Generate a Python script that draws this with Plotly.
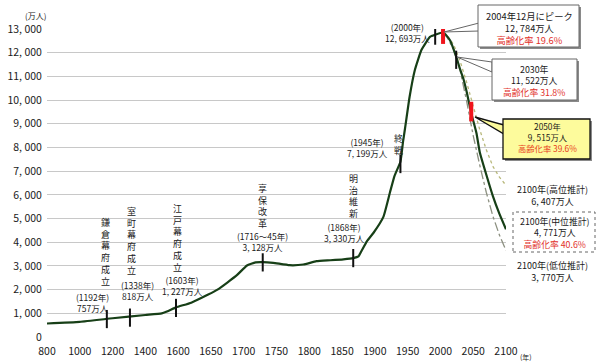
import plotly.graph_objects as go

# ---------------- data ----------------
tick_labels = ["800", "1000", "1200", "1400", "1600", "1650", "1700", "1750",
               "1800", "1850", "1900", "1950", "2000", "2050", "2100"]
y_ticks = [0, 1000, 2000, 3000, 4000, 5000, 6000, 7000, 8000, 9000, 10000, 11000, 12000, 13000]
y_tick_text = ["0", "1, 000", "2, 000", "3, 000", "4, 000", "5, 000", "6, 000", "7, 000",
               "8, 000", "9, 000", "10, 000", "11, 000", "12, 000", "13, 000"]

# population (万人)
hist_years = [800, 1000, 1200, 1400, 1500, 1540, 1587, 1620, 1645, 1660, 1675, 1690, 1705,
              1718, 1729, 1745, 1770, 1791, 1811, 1832, 1852, 1867, 1875, 1880, 1888, 1898,
              1913, 1923, 1930, 1939, 1943, 1946, 1953, 1961, 1971, 1984, 1992, 2004]
hist_pop = [570, 640, 790, 930, 1000, 1100, 1250, 1450, 1780, 2000, 2300, 2620, 3020,
            3150, 3160, 3130, 3030, 3060, 3200, 3240, 3280, 3330, 3400, 3650, 4050, 4400,
            5070, 6100, 6800, 7400, 8250, 8800, 10140, 11270, 12110, 12670, 12760, 12850]

mid_years = [2004, 2010, 2015, 2020, 2025, 2030, 2035, 2040, 2047, 2055, 2060, 2070, 2080, 2090, 2100]
mid_pop = [12850, 12700, 12500, 12150, 11750, 11300, 10900, 10350, 9450, 8600, 7800, 6850, 5950, 5200, 4550]

high_years = [2004, 2010, 2020, 2030, 2040, 2050, 2060, 2070, 2080, 2090, 2100]
high_pop = [12850, 12720, 12350, 11650, 10750, 9750, 8750, 7900, 7200, 6750, 6400]

low_years = [2004, 2010, 2020, 2030, 2040, 2046, 2050, 2060, 2070, 2080, 2090, 2100]
low_pop = [12850, 12650, 12150, 11250, 9950, 9000, 8500, 7250, 6100, 5100, 4300, 3650]

event_years = [1165, 1306, 1587, 1729, 1867, 1939, 1992, 2024]
event_pop = [757, 818, 1227, 3150, 3330, 7300, 12720, 11700]
red_years = [2004, 2047]
red_pop = [12784, 9515]


def pos(year):
    if year <= 1600:
        return (year - 800) / 200
    return 4 + (year - 1600) / 50


def P(v):
    return [pos(y) for y in v]


# ---------------- layout helpers (pixel -> paper) ----------------
L, R, T, B = 47, 506, 29, 337


def X(px):
    return (px - L) / (R - L)


def Y(py):
    return (B - py) / (B - T)


FONT = "Noto Sans CJK JP"
TXT = "#1a1a1a"
RED = "#e2312b"

fig = go.Figure()
fig.add_trace(go.Scatter(x=P(low_years), y=low_pop, mode="lines",
                         line=dict(color="#8c9080", width=1.3, dash="dashdot")))
fig.add_trace(go.Scatter(x=P(high_years), y=high_pop, mode="lines",
                         line=dict(color="#b8b87a", width=1.3, dash="dot")))
fig.add_trace(go.Scatter(x=P(hist_years) + P(mid_years[1:]), y=hist_pop + mid_pop[1:],
                         mode="lines", line=dict(color="#173f17", width=2.2, shape="spline",
                                                 smoothing=0.4)))
fig.add_trace(go.Scatter(x=P(event_years), y=event_pop, mode="markers",
                         marker=dict(symbol="line-ns", size=13,
                                     line=dict(width=2, color="#111111"))))
fig.add_trace(go.Scatter(x=P(red_years), y=red_pop, mode="markers",
                         marker=dict(symbol="line-ns", size=14,
                                     line=dict(width=4, color="#f0141c"))))

ann = []


def text(px, py, s, size=9.5, color=TXT, xa="center", ya="middle"):
    ann.append(dict(x=X(px), y=Y(py), xref="paper", yref="paper", text=s, showarrow=False,
                    xanchor=xa, yanchor=ya, borderpad=0, align="center",
                    font=dict(family=FONT, size=size, color=color)))


def vtext(px, pmid, s, size=9):
    text(px, pmid, "<br>".join(list(s)), size=size)


def red(s, c=RED):
    return "<span style='color:{}'>{}</span>".format(c, s)


text(35, 15, "(万人)", size=8)
text(519, 357, "(年)", size=7, xa="left")

vtext(105, 251.5, "鎌倉幕府成立")
text(92, 302, "(1192年)<br>757万人", size=8.5)

vtext(131.5, 241, "室町幕府成立")
text(137, 290, "(1338年)<br>818万人", size=8.5)

vtext(177, 238, "江戸幕府成立")
text(182, 285, "(1603年)<br>1, 227万人", size=8.5)

vtext(262, 206, "享保改革")
text(262, 242, "(1716～45年)<br>3, 128万人", size=8.5)

vtext(353.5, 196, "明治維新")
text(344, 232, "(1868年)<br>3, 330万人", size=8.5)

vtext(398, 144.5, "終戦")
text(367, 147, "(1945年)<br>7, 199万人", size=8.5)

text(407.5, 32.5, "(2000年)<br>12, 693万人", size=8.5)

# box texts
text(529, 28, "2004年12月にピーク<br>12, 784万人<br>" + red("高齢化率 19.6%"), size=9.3)
text(534, 81, "2030年<br>11, 522万人<br>" + red("高齢化率 31.8%"), size=8.8)
text(547, 137, "2050年<br>9, 515万人<br>" + red("高齢化率 39.6%", "#e8401c"), size=8.3)
text(552, 196, "2100年(高位推計)<br>6, 407万人", size=9)
text(554, 233, "2100年(中位推計)<br>4, 771万人<br>" + red("高齢化率 40.6%"), size=8.8)
text(552, 271.5, "2100年(低位推計)<br>3, 770万人", size=9)

shapes = []


def rect(x0, y0, x1, y1, fill, line, w=1, dash=None, shadow=False):
    if shadow:
        shapes.append(dict(type="rect", xref="paper", yref="paper", x0=X(x0 + 2), x1=X(x1 + 2),
                           y0=Y(y1 + 2), y1=Y(y0 + 2), fillcolor="#8a8a8a",
                           line=dict(width=0), layer="above"))
    ln = dict(color=line, width=w)
    if dash:
        ln["dash"] = dash
    shapes.append(dict(type="rect", xref="paper", yref="paper", x0=X(x0), x1=X(x1),
                       y0=Y(y1), y1=Y(y0), fillcolor=fill, line=ln, layer="above"))


def wedge(tip, b1, b2, fill, line, w=1):
    p = "M {} {} L {} {} L {} {} Z".format(X(tip[0]), Y(tip[1]), X(b1[0]), Y(b1[1]),
                                          X(b2[0]), Y(b2[1]))
    shapes.append(dict(type="path", xref="paper", yref="paper", path=p, fillcolor=fill,
                       line=dict(color=line, width=w), layer="above"))


wedge((444, 32), (479, 23), (479, 31), "white", "#666666")
rect(478, 5, 579, 47, "white", "#666666", shadow=True)
wedge((457, 57), (492, 62), (492, 72), "white", "#666666")
rect(492, 59, 577, 100, "white", "#666666", shadow=True)
wedge((475, 117), (504, 125), (504, 134), "#fdfb9c", "#111111", 1.3)
rect(503, 119, 590, 159, "#fdfb9c", "#111111", w=1.3, shadow=True)
rect(513, 212, 595, 252, "rgba(0,0,0,0)", "#666666", dash="dot")

fig.update_layout(
    width=600, height=364,
    margin=dict(l=L, r=600 - R, t=T, b=364 - B),
    paper_bgcolor="white", plot_bgcolor="white",
    showlegend=False,
    annotations=ann, shapes=shapes,
    xaxis=dict(range=[0, 14], tickmode="array", tickvals=list(range(15)), ticktext=tick_labels,
               showgrid=False, zeroline=False, showline=False, ticks="outside", ticklen=4,
               tickcolor="rgba(0,0,0,0)", automargin=False,
               tickfont=dict(family=FONT, size=10.5, color=TXT)),
    yaxis=dict(range=[0, 13000], tickmode="array", tickvals=y_ticks, ticktext=y_tick_text,
               showgrid=True, gridcolor="#c8c8c8", gridwidth=1, zeroline=False, showline=False,
               ticks="outside", ticklen=2, tickcolor="rgba(0,0,0,0)", automargin=False,
               tickfont=dict(family=FONT, size=10.5, color=TXT)),
)

fig.write_html("out.html", config={"displayModeBar": False},
               post_script="document.body.style.margin='0';")
